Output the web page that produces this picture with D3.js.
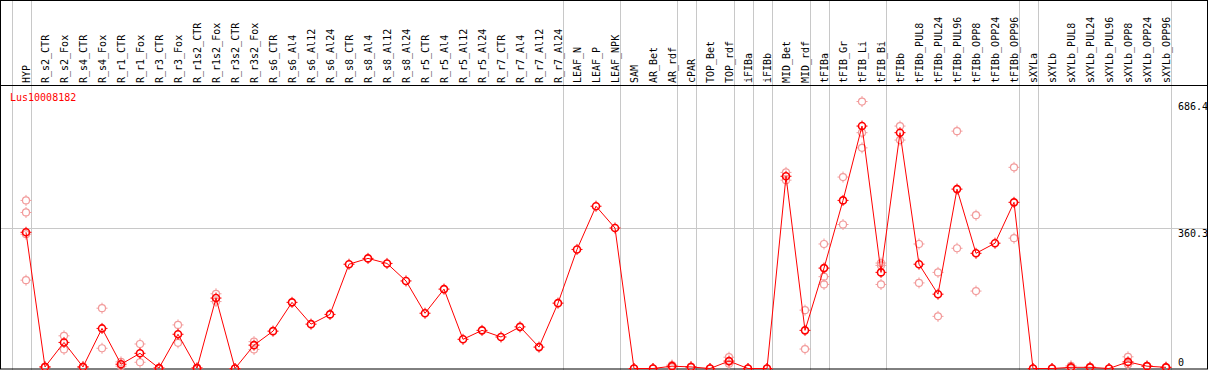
<!DOCTYPE html>
<html>
<head>
<meta charset="utf-8">
<script src="https://cdn.jsdelivr.net/npm/d3@7"></script>
<style>
  body { margin: 0; background: #fff; }
  text { font-family: "DejaVu Sans Mono", monospace; font-size: 10px; }
</style>
</head>
<body>
<div id="chart"></div>
<script>
(function () {
  "use strict";

  const geneName = "Lus10008182";

  const categories = [
    "HYP", "R_s2_CTR", "R_s2_Fox", "R_s4_CTR", "R_s4_Fox", "R_r1_CTR", "R_r1_Fox",
    "R_r3_CTR", "R_r3_Fox", "R_r1s2_CTR", "R_r1s2_Fox", "R_r3s2_CTR", "R_r3s2_Fox",
    "R_s6_CTR", "R_s6_Al4", "R_s6_Al12", "R_s6_Al24", "R_s8_CTR", "R_s8_Al4",
    "R_s8_Al12", "R_s8_Al24", "R_r5_CTR", "R_r5_Al4", "R_r5_Al12", "R_r5_Al24",
    "R_r7_CTR", "R_r7_Al4", "R_r7_Al12", "R_r7_Al24", "LEAF_N", "LEAF_P", "LEAF_NPK",
    "SAM", "AR_Bet", "AR_rdf", "cPAR", "TOP_Bet", "TOP_rdf", "iFIBa", "iFIBb",
    "MID_Bet", "MID_rdf", "tFIBa", "tFIB_Gr", "tFIB_Li", "tFIB_Bi", "tFIBb",
    "tFIBb_PUL8", "tFIBb_PUL24", "tFIBb_PUL96", "tFIBb_OPP8", "tFIBb_OPP24", "tFIBb_OPP96",
    "sXYLa", "sXYLb", "sXYLb_PUL8", "sXYLb_PUL24", "sXYLb_PUL96", "sXYLb_OPP8",
    "sXYLb_OPP24", "sXYLb_OPP96"
  ];

  // mean expression per sample
  const means = [
    350, 4, 67, 4, 103, 11, 39,
    1, 88, 1, 181, 0, 60,
    96, 170, 114, 139, 268, 283,
    270, 225, 142, 204, 75, 98,
    81, 107, 55, 168, 306, 417, 361,
    0, 0, 6, 4, 0, 19, 0, 0,
    494, 98, 258, 432, 623, 247, 606,
    268, 191, 461, 296, 322, 427,
    0, 0, 3, 3, 0, 17,
    6, 3
  ];

  // individual replicates per sample
  const replicates = [
    [432, 401, 345, 227], [3, 5], [84, 49], [3, 5], [155, 52], [17, 6], [63, 16],
    [0, 1], [112, 66], [0, 2], [192, 172], [0, 0], [69, 49],
    [], [], [], [], [], [],
    [], [], [], [], [], [],
    [], [], [], [], [], [], [],
    [0, 0], [0, 0], [9, 3], [5, 3], [0, 0], [29, 12], [0, 0], [0, 0],
    [504, 484], [150, 50], [320, 236, 216], [492, 370], [686, 606, 567], [271, 265, 216], [623, 587],
    [320, 220], [247, 134], [610, 309], [394, 199], [], [517, 335],
    [0, 0], [0, 0], [7, 0], [4, 2], [0, 0], [30, 11, 11],
    [6, 6], [3, 3]
  ];

  // last sample of each group (a separator is drawn after it)
  const groupEnds = ["HYP", "R_r7_Al24", "LEAF_NPK", "AR_rdf", "cPAR", "TOP_rdf", "iFIBa",
    "iFIBb", "MID_rdf", "tFIBa", "tFIB_Bi", "tFIBb_OPP96", "sXYLa", "sXYLb_OPP96"];

  const yTicks = [0, 360.3, 686.4];

  const width = 1209;
  const height = 370;
  const headerY = 85.5;

  const svg = d3
    .select("#chart")
    .append("svg")
    .attr("width", width)
    .attr("height", height);

  // x: one slot per sample, 19px apart
  const x = d3
    .scalePoint()
    .domain(categories)
    .range([26, 26 + 19 * (categories.length - 1)]);

  const y = d3.scaleLinear().domain([0, 686.4]).range([368.5, 101.4]);

  const grey = "#c8c8c8";

  // group separators
  const sepX = [x("HYP") - 14.5].concat(groupEnds.map((c) => x(c) + 4.5));
  svg
    .append("g")
    .selectAll("line")
    .data(sepX)
    .join("line")
    .attr("x1", (d) => Math.round(d) + 0.5)
    .attr("x2", (d) => Math.round(d) + 0.5)
    .attr("y1", 0)
    .attr("y2", height)
    .attr("stroke", grey);

  // horizontal grid line at the middle tick
  svg
    .append("line")
    .attr("x1", 0)
    .attr("x2", 1208)
    .attr("y1", Math.round(y(360.3)) + 0.5)
    .attr("y2", Math.round(y(360.3)) + 0.5)
    .attr("stroke", grey);

  // frame + header rule
  svg
    .append("rect")
    .attr("x", 0.5)
    .attr("y", 0.5)
    .attr("width", 1207)
    .attr("height", 368.5)
    .attr("fill", "none")
    .attr("stroke", "#000");
  svg
    .append("line")
    .attr("x1", 0)
    .attr("x2", 1208)
    .attr("y1", headerY)
    .attr("y2", headerY)
    .attr("stroke", "#000");

  // rotated sample names
  svg
    .append("g")
    .selectAll("text")
    .data(categories)
    .join("text")
    .attr("transform", (d) => `translate(${x(d) + 3.5},83) rotate(-90)`)
    .attr("fill", "#000")
    .text((d) => d);

  // gene name
  svg
    .append("text")
    .attr("x", 10)
    .attr("y", 100.5)
    .attr("fill", "red")
    .text(geneName);

  // value labels on the right
  svg
    .append("g")
    .selectAll("text")
    .data(yTicks)
    .join("text")
    .attr("x", 1178)
    .attr("y", (d) => Math.min(y(d) + 8.5, 366))
    .attr("fill", "#000")
    .text((d) => d);

  // circle with four small ticks
  function marker(g, color, sw) {
    const r = 3.5;
    g.append("circle").attr("r", r).attr("fill", "none").attr("stroke", color).attr("stroke-width", sw);
    [[0, -1], [0, 1], [-1, 0], [1, 0]].forEach(([dx, dy]) => {
      g.append("line")
        .attr("x1", dx * r)
        .attr("y1", dy * r)
        .attr("x2", dx * (r + 2))
        .attr("y2", dy * (r + 2))
        .attr("stroke", color)
        .attr("stroke-width", 1);
    });
  }

  // replicates
  const repPoints = [];
  categories.forEach((c, i) => {
    replicates[i].forEach((v) => repPoints.push({ c: c, v: v }));
  });
  svg
    .append("g")
    .selectAll("g")
    .data(repPoints)
    .join("g")
    .attr("transform", (d) => `translate(${x(d.c)},${y(d.v)})`)
    .each(function () {
      marker(d3.select(this), "#f29b9b", 1.2);
    });

  // mean line
  const line = d3
    .line()
    .x((d, i) => x(categories[i]))
    .y((d) => y(d));
  svg
    .append("path")
    .datum(means)
    .attr("d", line)
    .attr("fill", "none")
    .attr("stroke", "red")
    .attr("stroke-width", 1);

  // mean markers
  svg
    .append("g")
    .selectAll("g")
    .data(means)
    .join("g")
    .attr("transform", (d, i) => `translate(${x(categories[i])},${y(d)})`)
    .each(function () {
      marker(d3.select(this), "red", 1.6);
    });
})();
</script>
</body>
</html>
